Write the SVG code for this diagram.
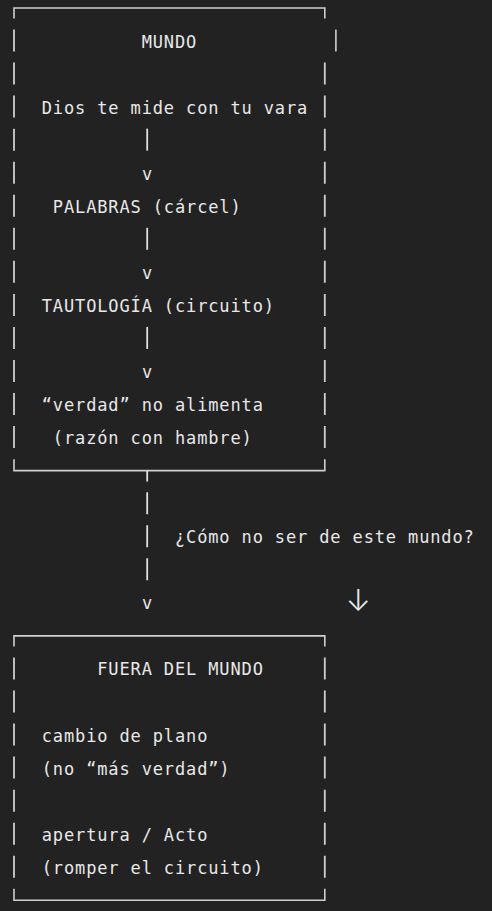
<svg xmlns="http://www.w3.org/2000/svg" width="492" height="911" viewBox="0 0 492 911">
<style>
.bg{fill:#222222}
.t{font-family:"DejaVu Sans Mono","Liberation Mono",monospace;font-size:17px;letter-spacing:0.866px;fill:#e8e8e8;white-space:pre}
.b{stroke:#cfcfcf;stroke-width:1.6;fill:none}
.d{stroke:#cfcfcf;stroke-width:1.8;fill:none;stroke-dasharray:22 11.05}
.s{stroke:#e0e0e0;stroke-width:1.8;fill:none}
.sd{stroke:#e0e0e0;stroke-width:1.8;fill:none;stroke-dasharray:22 11.05}
.m{text-anchor:middle}
.ar{font-family:Inter,"DejaVu Sans",sans-serif;font-size:30px;font-weight:300;fill:#e8e8e8;text-anchor:middle}
</style>
<rect class="bg" x="0" y="0" width="492" height="911"/>
<g id="node-mundo">
<path class="b" d="M14 18.45V7.95H324.8V18.45"/>
<line class="d" x1="14" y1="29.5" x2="14" y2="448.1"/>
<line class="b" x1="335.9" y1="29.5" x2="335.9" y2="51.5"/>
<line class="d" x1="324.8" y1="62.55" x2="324.8" y2="448.1"/>
<path class="b" d="M14 459.15V470.65H324.8V459.15"/>
<text class="t" x="141.65" y="47.5">MUNDO</text>
<text class="t" x="41.75" y="113.6">Dios te mide con tu vara</text>
<text class="t" x="52.85" y="212.75">PALABRAS (cárcel)</text>
<text class="t" x="41.75" y="311.9">TAUTOLOGÍA (circuito)</text>
<text class="t" x="41.75" y="411.05">“verdad” no alimenta</text>
<text class="t" x="52.85" y="444.1">(razón con hambre)</text>
</g>
<g id="connectors">
<line class="s" x1="147.2" y1="128.65" x2="147.2" y2="150.65"/>
<text class="t m" x="147.6" y="179.7">v</text>
<line class="s" x1="147.2" y1="227.8" x2="147.2" y2="249.8"/>
<text class="t m" x="147.6" y="278.85">v</text>
<line class="s" x1="147.2" y1="326.95" x2="147.2" y2="348.95"/>
<text class="t m" x="147.6" y="378">v</text>
<line class="s" x1="147.2" y1="470.65" x2="147.2" y2="481.5"/>
<line class="sd" x1="147.2" y1="492.2" x2="147.2" y2="580.3"/>
<text class="t m" x="147.6" y="609.35">v</text>
<text class="t" x="174.95" y="543.25">¿Cómo no ser de este mundo?</text>
<text class="ar" x="358.3" y="611">↓</text>
</g>
<g id="node-fuera">
<path class="b" d="M14 646.4V635.9H324.8V646.4"/>
<line class="d" x1="14" y1="657.45" x2="14" y2="877.75"/>
<line class="d" x1="324.8" y1="657.45" x2="324.8" y2="877.75"/>
<path class="b" d="M14 888.8V900.3H324.8V888.8"/>
<text class="t" x="97.25" y="675.45">FUERA DEL MUNDO</text>
<text class="t" x="41.75" y="741.55">cambio de plano</text>
<text class="t" x="41.75" y="774.6">(no “más verdad”)</text>
<text class="t" x="41.75" y="840.7">apertura / Acto</text>
<text class="t" x="41.75" y="873.75">(romper el circuito)</text>
</g>
</svg>
